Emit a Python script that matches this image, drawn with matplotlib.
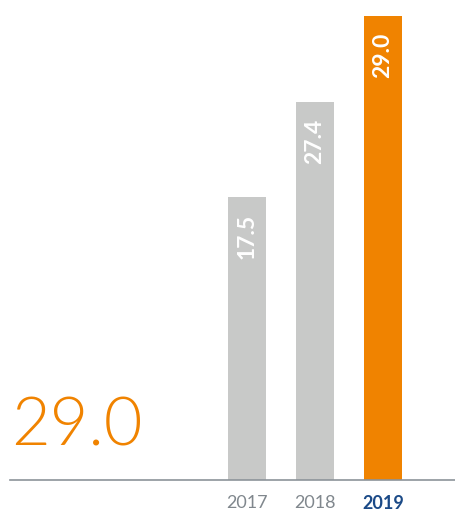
import matplotlib
matplotlib.use("Agg")
import matplotlib.pyplot as plt

# Data
years = ["2017", "2018", "2019"]
values = ["17.5", "27.4", "29.0"]
# bar heights as drawn in the original (2018 bar is not to scale there)
bar_heights = [17.7, 23.6, 29.0]
headline = "29.0"

W, H = 456, 512
fig = plt.figure(figsize=(W / 100, H / 100), dpi=100)

# axes from x=10px to right edge, baseline at y=480px
ax = fig.add_axes([10 / W, 1 - 480 / H, 1 - 10 / W, 480 / H])

bar_colors = ["#c8c9c8", "#c8c9c8", "#f08300"]
x = list(range(len(years)))
bars = ax.bar(x, bar_heights, width=38 / 68, color=bar_colors, linewidth=0)

ax.set_xlim((10 - 247) / 68, (456 - 247) / 68)
ax.set_ylim(0, 30)

for bar, lab in zip(bars, values):
    ax.annotate(lab, (bar.get_x() + bar.get_width() / 2, bar.get_height()),
                xytext=(0, -12), textcoords="offset points",
                rotation=90, ha="center", va="top", color="white",
                fontsize=16.5, fontweight="bold", family="Lato")

for s in ["top", "left", "right"]:
    ax.spines[s].set_visible(False)
ax.spines["bottom"].set_color("#8c939a")
ax.spines["bottom"].set_linewidth(1.2)
ax.set_yticks([])
ax.set_xticks(x)
ax.set_xticklabels(years, family="Lato", fontsize=13)
ax.tick_params(axis="x", length=0, pad=11)
for i, t in enumerate(ax.get_xticklabels()):
    if i == len(years) - 1:
        t.set_color("#1b4a87")
        t.set_fontweight("bold")
    else:
        t.set_color("#80878d")

fig.text(11 / W, 1 - 446 / H, headline, color="#f08300", fontsize=48,
         family="Lato", fontweight=300, va="baseline", ha="left")

fig.savefig("out.png", dpi=100)
